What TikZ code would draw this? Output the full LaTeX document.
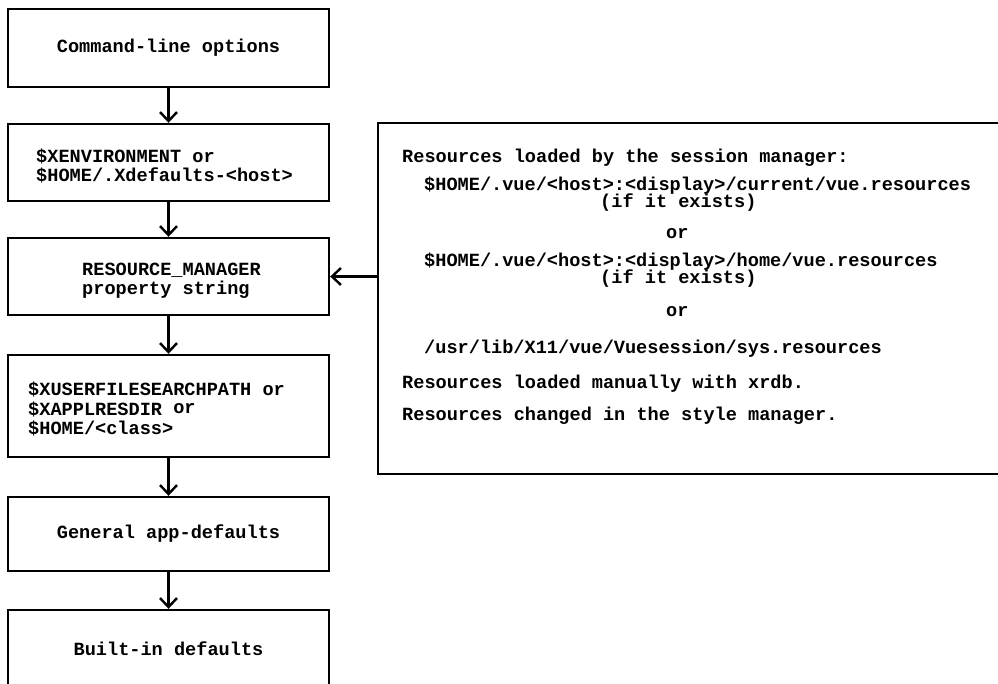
\documentclass[tikz,border=0pt]{standalone}
\usepackage{fontspec}
\setmainfont{Liberation Mono}
\usetikzlibrary{arrows.meta}
\newcommand\codefont{\fontsize{18.6}{19}\selectfont\bfseries}
\begin{document}
\begin{tikzpicture}[x=1pt,y=-1pt,
  box/.style={draw, line width=2.4pt, minimum width=321pt, inner sep=0pt, font=\codefont},
  flow/.style={line width=2.4pt, -{Straight Barb[length=9pt,width=17pt,line width=2.4pt]}},
  txt/.style={anchor=west, inner sep=0pt, font=\codefont},
  multi/.style={txt, align=left, font=\fontsize{18.6}{#1}\selectfont\bfseries}
]
\fill[white] (0,0) rectangle (998,683);
\useasboundingbox (0,0) rectangle (998,683);
\clip (0,0) rectangle (998,683);

% precedence chain, highest first
\node[box, minimum height=78pt] (b1) at (168.5,48) {Command-line options};
\node[box, minimum height=77pt] (b2) at (168.5,162.5) {};
\node[box, minimum height=77pt] (b3) at (168.5,276.5) {};
\node[box, minimum height=102pt] (b4) at (168.5,406) {};
\node[box, minimum height=74pt] (b5) at (168.5,534) {General app-defaults};
\node[box, minimum height=78pt] (b6) at (168.5,649) {Built-in defaults};

\node[multi=19] (t2) at (36,166) {\$XENVIRONMENT or\\\$HOME/.Xdefaults-<host>};
\node[multi=19] (t3) at (82,281) {RESOURCE\_MANAGER\\property string};
\node[multi=19.5] (t4) at (28,409)
  {\$XUSERFILESEARCHPATH or\\\$XAPPLRESDIR \raisebox{1.5pt}{or}\\\$HOME/<class>};

\draw[flow] (b1.south) -- (b2.north);
\draw[flow] (b2.south) -- (b3.north);
\draw[flow] (b3.south) -- (b4.north);
\draw[flow] (b4.south) -- (b5.north);
\draw[flow] (b5.south) -- (b6.north);

% sources feeding the RESOURCE_MANAGER property
\node[draw, line width=2.4pt, minimum width=642pt, minimum height=351pt, inner sep=0pt] (rbox) at (699,298.5) {};
\node[txt] (r1) at (402,158) {Resources loaded by the session manager:};
\node[txt] (r2) at (424,186) {\$HOME/.vue/<host>:<display>/current/vue.resources};
\node[txt] (r3) at (600,203) {(if it exists)};
\node[txt] (r4) at (666,234) {or};
\node[txt] (r5) at (424,262) {\$HOME/.vue/<host>:<display>/home/vue.resources};
\node[txt] (r6) at (600,279) {(if it exists)};
\node[txt] (r7) at (666,312) {or};
\node[txt] (r8) at (424,349) {/usr/lib/X11/vue/Vuesession/sys.resources};
\node[txt] (r9) at (402,384) {Resources loaded manually with xrdb.};
\node[txt] (r10) at (402,416) {Resources changed in the style manager.};

\draw[flow] (rbox.west |- b3.east) -- (b3.east);
\end{tikzpicture}
\end{document}
